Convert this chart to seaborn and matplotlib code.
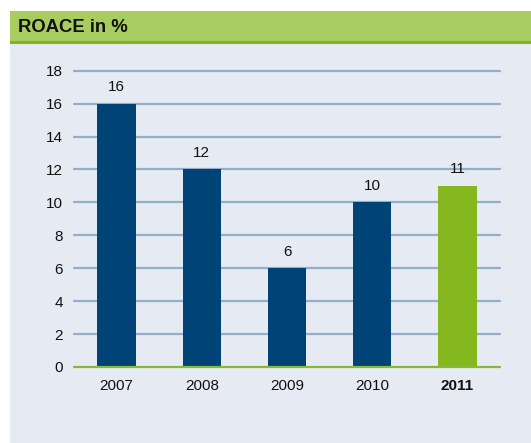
import matplotlib
matplotlib.use("Agg")
import matplotlib.pyplot as plt
import seaborn as sns
import pandas as pd
from matplotlib.patches import Rectangle

# chart data
years = ["2007", "2008", "2009", "2010", "2011"]
roace = [16, 12, 6, 10, 11]
bar_colors = ["#004477", "#004477", "#004477", "#004477", "#84b81e"]
y_ticks = [0, 2, 4, 6, 8, 10, 12, 14, 16, 18]

sns.set_style("white")
plt.rcParams["font.family"] = ["Liberation Sans", "DejaVu Sans"]

W, H = 531, 443
fig = plt.figure(figsize=(W / 100, H / 100), dpi=100)
fig.patch.set_facecolor("white")

# header band + panel background
fig.patches.append(Rectangle((10 / W, 0), 1, (H - 43) / H, transform=fig.transFigure,
                             facecolor="#e6ebf3", edgecolor="none", zorder=-10))
fig.patches.append(Rectangle((10 / W, (H - 41) / H), 1, 30 / H, transform=fig.transFigure,
                             facecolor="#a9cc60", edgecolor="none", zorder=-10))
fig.patches.append(Rectangle((10 / W, (H - 43.5) / H), 1, 2.5 / H, transform=fig.transFigure,
                             facecolor="#7fb51e", edgecolor="none", zorder=-10))
fig.text(18 / W, (H - 27) / H, "ROACE in %", fontsize=13.3, fontweight="bold",
         va="center", ha="left", color="#111111")

ax = fig.add_axes([74 / W, 76 / H, 426 / W, 296.3 / H])
ax.set_facecolor("none")
ax.set_zorder(1)

df = pd.DataFrame({"year": years, "roace": roace})
sns.barplot(data=df, x="year", y="roace", hue="year", palette=bar_colors,
            legend=False, width=0.45, saturation=1, linewidth=0,
            edgecolor="none", ax=ax, zorder=3)

ax.set_ylim(0, 18)
ax.set_xlim(-0.5, len(years) - 0.5)
ax.set_yticks(y_ticks)
for t in y_ticks[1:]:
    ax.axhline(t, color="#93adcb", lw=1.6, zorder=1, clip_on=False)
ax.axhline(0, color="#86b83a", lw=1.6, zorder=4, clip_on=False)

for i, v in enumerate(roace):
    ax.annotate(str(v), (i, v), xytext=(0, 7), textcoords="offset points",
                ha="center", va="bottom", fontsize=11, color="#111111")

ax.set_xlabel("")
ax.set_ylabel("")
ax.tick_params(axis="both", length=0, labelsize=11, colors="#111111")
ax.tick_params(axis="y", pad=8)
ax.tick_params(axis="x", pad=9)
ax.get_xticklabels()[-1].set_fontweight("bold")
for s in ax.spines.values():
    s.set_visible(False)

fig.savefig("out.png", dpi=100)
